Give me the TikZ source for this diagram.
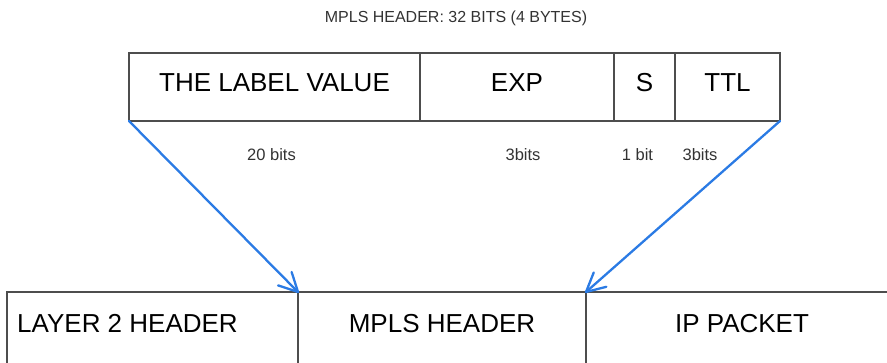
\documentclass[tikz,border=0pt]{standalone}
\usepackage{fontspec}
\setmainfont{Liberation Sans}
\usetikzlibrary{calc}
\definecolor{linegray}{HTML}{4D4D4D}
\definecolor{arrowblue}{HTML}{2B7BE4}
\definecolor{textgray}{HTML}{333333}
\begin{document}
\begin{tikzpicture}[x=1pt,y=-1pt,
  cell/.style={draw=linegray,line width=2.6pt,rectangle,anchor=north west,inner sep=0pt,outer sep=0pt},
  big/.style={font=\fontsize{26}{30}\selectfont,text=black,inner sep=0pt},
  small/.style={font=\fontsize{16}{19}\selectfont,text=textgray,inner sep=0pt},
  bits/.style={font=\fontsize{16.5}{19}\selectfont,text=textgray,inner sep=0pt},
  arr/.style={draw=arrowblue,line width=2.3pt,line cap=round,line join=round}]
\useasboundingbox (0,0) rectangle (887,362);
\clip (0,0) rectangle (887,362);
% title
\node[small] (title) at (456,18) {MPLS HEADER: 32 BITS (4 BYTES)};
% top cells
\node[cell,minimum width=291pt,minimum height=68pt] (c1) at (129,53) {};
\node[cell,minimum width=194pt,minimum height=68pt] (c2) at (420,53) {};
\node[cell,minimum width=61pt,minimum height=68pt] (c3) at (614,53) {};
\node[cell,minimum width=105pt,minimum height=68pt] (c4) at (675,53) {};
\node[big] (t1) at (274.5,82.5) {THE LABEL VALUE};
\node[big] (t2) at (517,82.5) {EXP};
\node[big] (t3) at (644.5,82.5) {S};
\node[big] (t4) at (727.5,82.5) {TTL};
% bit labels
\node[bits] (b1) at (271.5,155) {20 bits};
\node[bits] (b2) at (523,155) {3bits};
\node[bits] (b3) at (637.5,155) {1 bit};
\node[bits] (b4) at (700,155) {3bits};
% bottom cells
\node[cell,minimum width=291pt,minimum height=100pt] (d1) at (7,292) {};
\node[cell,minimum width=288pt,minimum height=100pt] (d2) at (298,292) {};
\node[cell,minimum width=320pt,minimum height=100pt] (d3) at (586,292) {};
\node[big,anchor=west] (u1) at (17,323.5) {LAYER 2 HEADER};
\node[big] (u2) at (442,323.5) {MPLS HEADER};
\node[big] (u3) at (742,323.5) {IP PACKET};
% arrows
\draw[arr] (c1.south west) -- (d2.north west);
\draw[arr] ($(d2.north west)!21pt!27:(c1.south west)$) -- (d2.north west) -- ($(d2.north west)!21pt!-27:(c1.south west)$);
\draw[arr] (c4.south east) -- (d3.north west);
\draw[arr] ($(d3.north west)!21pt!27:(c4.south east)$) -- (d3.north west) -- ($(d3.north west)!21pt!-27:(c4.south east)$);
\end{tikzpicture}
\end{document}
